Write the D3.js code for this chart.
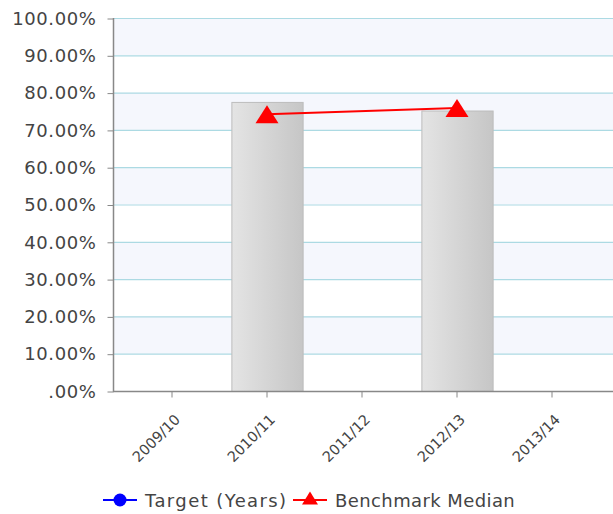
<!DOCTYPE html>
<html>
<head>
<meta charset="utf-8">
<script src="https://cdn.jsdelivr.net/npm/d3@7"></script>
<style>
  body { margin: 0; background: #fff; }
  text { font-family: "DejaVu Sans", Verdana, sans-serif; fill: #444; }
</style>
</head>
<body>
<svg id="chart"></svg>
<script>
// chart values
const categories = ["2009/10", "2010/11", "2011/12", "2012/13", "2013/14"];
const barValues = [null, 77.5, null, 75.2, null];
const benchmarkMedian = [null, 74.2, null, 75.9, null];
const targetYears = [null, null, null, null, null];
const yTicks = [0, 10, 20, 30, 40, 50, 60, 70, 80, 90, 100];
const yTickLabels = [".00%", "10.00%", "20.00%", "30.00%", "40.00%", "50.00%",
  "60.00%", "70.00%", "80.00%", "90.00%", "100.00%"];
const legendNames = ["Target (Years)", "Benchmark Median"];

const width = 613,
  height = 514;
const plotLeft = 113,
  plotRight = 613,
  plotTop = 18,
  plotBottom = 391;

const svg = d3.select("#chart").attr("width", width).attr("height", height);

const defs = svg.append("defs");
const grad = defs.append("linearGradient").attr("id", "barGrad")
  .attr("x1", "0%").attr("x2", "100%").attr("y1", "0%").attr("y2", "0%");
grad.append("stop").attr("offset", "0%").attr("stop-color", "#e4e4e4");
grad.append("stop").attr("offset", "100%").attr("stop-color", "#c6c6c6");

const x = d3.scaleBand()
  .domain(categories)
  .range([124.5, 599.5])
  .paddingInner(0.25)
  .paddingOuter(0.125);

const y = d3.scaleLinear().domain([0, 100]).range([plotBottom, plotTop]);

// alternating bands
const bands = d3.range(yTicks.length - 1);
svg.append("g")
  .selectAll("rect")
  .data(bands)
  .enter()
  .append("rect")
  .attr("x", plotLeft)
  .attr("width", plotRight - plotLeft)
  .attr("y", i => y(yTicks[i + 1]))
  .attr("height", i => y(yTicks[i]) - y(yTicks[i + 1]))
  .attr("fill", i => (i % 2 === 0 ? "#ffffff" : "#f5f7fd"));

// grid lines
svg.append("g")
  .selectAll("line")
  .data(yTicks.filter(d => d > 0))
  .enter()
  .append("line")
  .attr("x1", plotLeft)
  .attr("x2", plotRight)
  .attr("y1", d => y(d) + 0.5)
  .attr("y2", d => y(d) + 0.5)
  .attr("stroke", "#acdae3")
  .attr("stroke-width", 1.2);

// bars
const barData = categories.map((c, i) => ({ cat: c, v: barValues[i] })).filter(d => d.v != null);
svg.append("g")
  .selectAll("rect")
  .data(barData)
  .enter()
  .append("rect")
  .attr("x", d => x(d.cat) + 0.5)
  .attr("width", x.bandwidth())
  .attr("y", d => y(d.v) + 0.5)
  .attr("height", d => y(0) - y(d.v))
  .attr("fill", "url(#barGrad)")
  .attr("stroke", "#bdbdbd")
  .attr("stroke-width", 1);

// y axis
const yAxis = d3.axisLeft(y)
  .tickValues(yTicks)
  .tickFormat((d, i) => yTickLabels[i])
  .tickSize(6)
  .tickPadding(11);
const gy = svg.append("g")
  .attr("transform", "translate(" + (plotLeft + 0.5) + ",0.5)")
  .call(yAxis);
gy.select(".domain").remove();
gy.selectAll("line").attr("stroke", "#888");
gy.selectAll("text")
  .style("font-size", "18px")
  .style("letter-spacing", "0.6px")
  .attr("fill", "#444");
svg.append("line")
  .attr("x1", plotLeft + 0.5).attr("x2", plotLeft + 0.5)
  .attr("y1", plotTop).attr("y2", plotBottom + 1)
  .attr("stroke", "#888").attr("stroke-width", 1.5);

// x axis
const xAxis = d3.axisBottom(x).tickSize(6);
const gx = svg.append("g")
  .attr("transform", "translate(0," + (plotBottom + 0.5) + ")")
  .call(xAxis);
gx.select(".domain").remove();
gx.selectAll("line").attr("stroke", "#888");
gx.selectAll("text")
  .style("font-size", "14.5px")
  .attr("fill", "#444")
  .attr("text-anchor", "end")
  .attr("x", 0)
  .attr("y", 0)
  .attr("dy", 0)
  .attr("transform", "translate(9,29) rotate(-45)");
svg.append("line")
  .attr("x1", plotLeft).attr("x2", plotRight)
  .attr("y1", plotBottom + 0.5).attr("y2", plotBottom + 0.5)
  .attr("stroke", "#888").attr("stroke-width", 1.5);

// benchmark line
const benchData = categories.map((c, i) => ({ cat: c, v: benchmarkMedian[i] })).filter(d => d.v != null);
const line = d3.line()
  .x(d => x(d.cat) + x.bandwidth() / 2)
  .y(d => y(d.v));
svg.append("path")
  .datum(benchData)
  .attr("d", line)
  .attr("fill", "none")
  .attr("stroke", "#ff0000")
  .attr("stroke-width", 2);

function triPath(w, h) {
  const p = d3.path();
  p.moveTo(0, -h / 2);
  p.lineTo(w / 2, h / 2);
  p.lineTo(-w / 2, h / 2);
  p.closePath();
  return p.toString();
}

svg.append("g")
  .selectAll("path")
  .data(benchData)
  .enter()
  .append("path")
  .attr("d", triPath(23, 18))
  .attr("transform", d => "translate(" + (x(d.cat) + x.bandwidth() / 2) + "," + y(d.v) + ")")
  .attr("fill", "#ff0000");

// legend
const legend = svg.append("g").attr("transform", "translate(0,500)");
const lg1 = legend.append("g").attr("transform", "translate(103,0)");
lg1.append("line").attr("x1", 0).attr("x2", 34).attr("y1", 0).attr("y2", 0)
  .attr("stroke", "#0000ff").attr("stroke-width", 2);
lg1.append("circle").attr("cx", 17).attr("cy", 0).attr("r", 6.5).attr("fill", "#0000ff");
lg1.append("text").attr("x", 42).attr("y", 6.5)
  .style("font-size", "18px").style("letter-spacing", "1.4px").text(legendNames[0]);

const lg2 = legend.append("g").attr("transform", "translate(293,0)");
lg2.append("line").attr("x1", 0).attr("x2", 34).attr("y1", 0).attr("y2", 0)
  .attr("stroke", "#ff0000").attr("stroke-width", 2);
lg2.append("path").attr("d", triPath(16, 13))
  .attr("transform", "translate(17,-2)").attr("fill", "#ff0000");
lg2.append("text").attr("x", 42).attr("y", 6.5)
  .style("font-size", "18px").style("letter-spacing", "0.4px").text(legendNames[1]);
</script>
</body>
</html>
